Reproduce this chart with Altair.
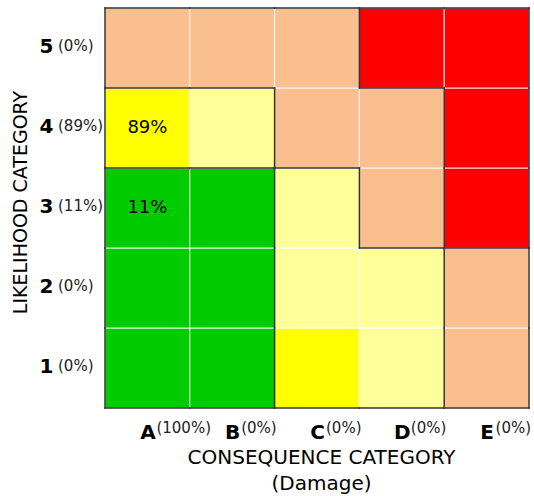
import altair as alt
import pandas as pd

# ---- data ----
cols = ["A", "B", "C", "D", "E"]
col_share = ["(100%)", "(0%)", "(0%)", "(0%)", "(0%)"]
rows = [1, 2, 3, 4, 5]
row_share = ["(0%)", "(0%)", "(11%)", "(89%)", "(0%)"]

# risk level of each cell, listed from likelihood 1 (bottom) to 5 (top), columns A..E
risk_row1 = ["green", "green", "yellow", "light", "peach"]
risk_row2 = ["green", "green", "light", "light", "peach"]
risk_row3 = ["green", "green", "light", "peach", "red"]
risk_row4 = ["yellow", "light", "peach", "peach", "red"]
risk_row5 = ["peach", "peach", "peach", "red", "red"]
risk_rows = [risk_row1, risk_row2, risk_row3, risk_row4, risk_row5]

cell_text_cols = ["A", "A"]
cell_text_rows = [4, 3]
cell_text_vals = ["89%", "11%"]

levels = ["green", "yellow", "light", "peach", "red"]
level_colors = ["#00CC00", "#FFFF00", "#FFFF99", "#F9BF8F", "#FF0000"]
zone_of = {"green": 1, "yellow": 2, "light": 2, "peach": 3, "red": 4}

# ---- build tables ----
cells = []
for r, levs in zip(rows, risk_rows):
    for i, (c, lev) in enumerate(zip(cols, levs)):
        lab = ""
        for tc, tr, tv in zip(cell_text_cols, cell_text_rows, cell_text_vals):
            if tc == c and tr == r:
                lab = tv
        cells.append(dict(x0=i, x1=i + 1, y0=r - 1, y1=r, xc=i + 0.5, yc=r - 0.5,
                          level=lev, label=lab))
cells_df = pd.DataFrame(cells)

nc, nr = len(cols), len(rows)
def zone(i, j):
    if 0 <= i < nc and 0 <= j < nr:
        return zone_of[risk_rows[j][i]]
    return None

segs = []
for j in range(nr):
    for i in range(nc):
        z = zone(i, j)
        if zone(i + 1, j) != z:
            segs.append(dict(sx=i + 1, ex=i + 1, sy=j, ey=j + 1))
        if i == 0:
            segs.append(dict(sx=0, ex=0, sy=j, ey=j + 1))
        if zone(i, j + 1) != z:
            segs.append(dict(sx=i, ex=i + 1, sy=j + 1, ey=j + 1))
        if j == 0:
            segs.append(dict(sx=i, ex=i + 1, sy=0, ey=0))
segs_df = pd.DataFrame(segs)

colpct_df = pd.DataFrame(dict(xc=[i + 0.5 for i in range(nc)], share=col_share))
rowpct_df = pd.DataFrame(dict(yc=[r - 0.5 for r in rows], share=row_share))

FONT = "DejaVu Sans"
xscale = alt.Scale(domain=[0, nc], nice=False, zero=False)
yscale = alt.Scale(domain=[0, nr], nice=False, zero=False)

col_expr = "[" + ",".join("'%s'" % c for c in cols) + "][floor(datum.value)]"
row_expr = "[" + ",".join("'%s'" % r for r in rows) + "][floor(datum.value)]"

xaxis = alt.Axis(
    values=[i + 0.5 for i in range(nc)], labelExpr=col_expr, grid=False, ticks=False,
    domain=False, labelFont=FONT, labelFontWeight="bold", labelFontSize=20,
    labelColor="black", labelPadding=14,
    title=["CONSEQUENCE CATEGORY", "(Damage)"], titleFont=FONT, titleFontSize=20,
    titleFontWeight="normal", titleColor="black", titleX=216, titleY=39,
    titleBaseline="top", titleLineHeight=26, titleAlign="center")
yaxis = alt.Axis(
    values=[r - 0.5 for r in rows], labelExpr=row_expr, grid=False, ticks=False,
    domain=False, labelFont=FONT, labelFontWeight="bold", labelFontSize=20,
    labelColor="black", labelPadding=52, labelBaseline="alphabetic", labelOffset=4,
    title="LIKELIHOOD CATEGORY", titleFont=FONT, titleFontSize=19,
    titleFontWeight="normal", titleColor="black", titleX=-85, titleY=194,
    titleBaseline="middle", titleAlign="center", titleAngle=-90)

rects = alt.Chart(cells_df).mark_rect(stroke="white", strokeWidth=1, strokeOpacity=0.85).encode(
    x=alt.X("x0:Q", scale=xscale, axis=xaxis),
    x2="x1:Q",
    y=alt.Y("y0:Q", scale=yscale, axis=yaxis),
    y2="y1:Q",
    color=alt.Color("level:N", scale=alt.Scale(domain=levels, range=level_colors), legend=None),
)

rules = alt.Chart(segs_df).mark_rule(color="#333333", strokeWidth=1.5, strokeCap="square").encode(
    x=alt.X("sx:Q", scale=xscale, axis=xaxis), x2="ex:Q",
    y=alt.Y("sy:Q", scale=yscale, axis=yaxis), y2="ey:Q",
)

cell_text = alt.Chart(cells_df).transform_filter("datum.label != ''").mark_text(
    font=FONT, fontSize=18, color="black").encode(
    x=alt.X("xc:Q", scale=xscale, axis=xaxis),
    y=alt.Y("yc:Q", scale=yscale, axis=yaxis),
    text="label:N",
)

col_pct = alt.Chart(colpct_df).mark_text(
    font=FONT, fontSize=15, color="#222222", align="left", baseline="alphabetic",
    dx=9, dy=25).encode(
    x=alt.X("xc:Q", scale=xscale, axis=xaxis),
    y=alt.YDatum(0, scale=yscale, axis=yaxis),
    text="share:N",
)

row_pct = alt.Chart(rowpct_df).mark_text(
    font=FONT, fontSize=15, color="#222222", align="left", baseline="alphabetic",
    dx=-47, dy=3).encode(
    x=alt.XDatum(0, scale=xscale, axis=xaxis),
    y=alt.Y("yc:Q", scale=yscale, axis=yaxis),
    text="share:N",
)

chart = alt.layer(rects, rules, cell_text, col_pct, row_pct).properties(
    width=424, height=400,
    autosize=alt.AutoSizeParams(type="none"),
    padding={"left": 105, "top": 8, "right": 5, "bottom": 88},
    background="white",
).configure_view(stroke=None)

chart.save("out.html", embed_options={"renderer": "svg", "actions": False})
